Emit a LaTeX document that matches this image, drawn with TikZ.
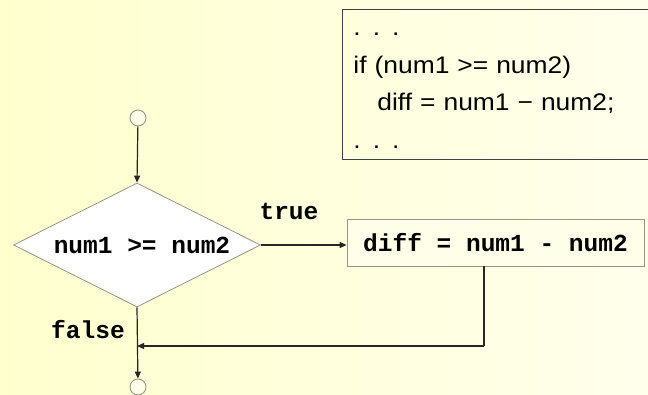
\documentclass[tikz,border=0pt]{standalone}
\usepackage{fontspec}
\setmainfont{Liberation Sans}
\setmonofont{Liberation Mono}
\newfontfamily\codefnt[FakeStretch=1.1]{Liberation Sans}
\usetikzlibrary{shapes.geometric,arrows.meta}
\definecolor{bgA}{RGB}{255,255,206}
\definecolor{bgB}{RGB}{255,255,236}
\definecolor{edgegray}{RGB}{150,150,130}
\definecolor{boxfill}{RGB}{255,254,232}
\tikzset{
  codefont/.style={font=\codefnt\fontsize{24}{37.6}\selectfont},
  monofont/.style={font=\fontsize{24.5}{28}\selectfont\ttfamily\bfseries},
  term/.style={circle,draw=edgegray,fill=boxfill,line width=0.9pt,minimum size=16pt,inner sep=0pt},
  decision/.style={diamond,aspect=2,draw=edgegray,fill=white,line width=0.8pt,minimum width=247pt,minimum height=124pt,inner sep=0pt,monofont},
  process/.style={rectangle,draw=edgegray,fill=boxfill,line width=0.8pt,minimum width=297pt,minimum height=47pt,inner sep=0pt,monofont},
  flow/.style={draw=black!85,line width=1.2pt,-{Triangle[length=7pt,width=6pt]}},
  plainflow/.style={draw=black!85,line width=1.2pt},
  lbl/.style={monofont,inner sep=0pt}
}
\begin{document}
\begin{tikzpicture}[x=1pt,y=-1pt]
\useasboundingbox (0,0) rectangle (648,395);
\clip (0,0) rectangle (648,395);
\shade[left color=bgA,right color=bgB] (0,0) rectangle (648,395);
% code box
\node[draw=black!75,line width=0.9pt,anchor=north west,align=left,text width=300pt,inner xsep=11pt,inner ysep=0pt,codefont] (code) at (342,9)
  {\strut. . .\\ if (num1 >= num2)\\ \hspace*{24pt}diff = num1 − num2;\\ . . .\strut};
% flowchart
\node[term] (start) at (138,118) {};
\node[decision] (cond) at (137,245) {\hspace*{10pt}num1 >= num2};
\node[process] (act) at (495.5,242.5) {diff = num1 - num2};
\node[term] (stop) at (138,387) {};
\node[lbl] (true) at (289,211) {true};
\node[lbl] (false) at (88,330) {false};
\coordinate (ret) at (484,346);
\draw[flow] (start) -- (cond.north);
\draw[flow] (cond.east) -- (cond.east -| act.west);
\draw[plainflow] (act.south -| ret) -- (ret);
\draw[flow] (ret) -- (ret -| cond.south);
\draw[flow] (cond.south) -- (stop);
\end{tikzpicture}
\end{document}
